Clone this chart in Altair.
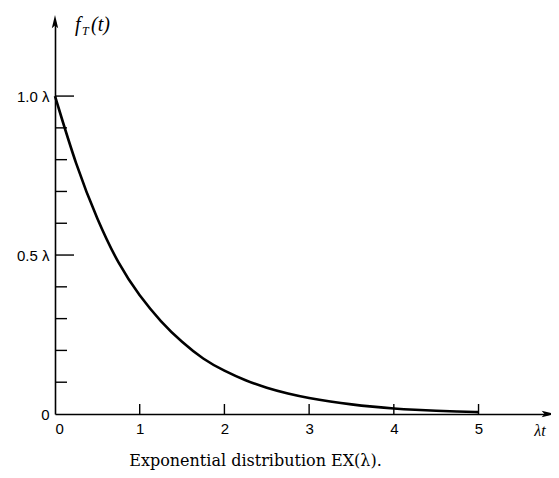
import altair as alt
import pandas as pd

# curve values (lambda*t, f_T(t)/lambda)
xs = [0, 0.25, 0.5, 0.75, 1.0, 1.25, 1.5, 1.75, 2.0, 2.25, 2.5, 2.75, 3.0,
      3.25, 3.5, 3.75, 4.0, 4.25, 4.5, 4.75, 5.0]
ys = [1.00, 0.78, 0.61, 0.47, 0.37, 0.29, 0.225, 0.172, 0.135, 0.105, 0.082,
      0.064, 0.05, 0.039, 0.030, 0.023, 0.017, 0.013, 0.010, 0.008, 0.006]

x_ticks = [1, 2, 3, 4, 5]
x_labels = [0, 1, 2, 3, 4, 5]
y_major = [0.5, 1.0]
y_minor = [0.1, 0.2, 0.3, 0.4, 0.6, 0.7, 0.8, 0.9]
y_labels = [0, 0.5, 1.0]

XMAX = 5.82
YMAX = 1.233

curve = pd.DataFrame({"x": xs, "y": ys})
xsc = alt.Scale(domain=[0, XMAX], nice=False, zero=False)
ysc = alt.Scale(domain=[0, YMAX], nice=False, zero=False)

FONT = "Liberation Sans"

base_axes = alt.Chart(pd.DataFrame({"x": [0], "y": [0]})).mark_point(opacity=0).encode(
    x=alt.X("x:Q", scale=xsc, title=None,
            axis=alt.Axis(values=x_labels, ticks=False, grid=False, domainColor="black",
                          domainWidth=1.6, labelFont=FONT, labelFontSize=15,
                          labelColor="black", labelPadding=7, format="d")),
    y=alt.Y("y:Q", scale=ysc, title=None,
            axis=alt.Axis(values=y_labels, ticks=False, grid=False, domainColor="black",
                          domainWidth=1.6, labelFont=FONT, labelFontSize=15,
                          labelColor="black", labelPadding=6,
                          labelExpr="datum.value == 0 ? '0' : format(datum.value, '.1f') + ' λ'")),
)

line = alt.Chart(curve).mark_line(color="black", strokeWidth=2.6, interpolate="basis").encode(
    x=alt.X("x:Q", scale=xsc), y=alt.Y("y:Q", scale=ysc))

xt = alt.Chart(pd.DataFrame({"x": x_ticks})).mark_rule(color="black", strokeWidth=1.4).encode(
    x=alt.X("x:Q", scale=xsc), y=alt.value(392), y2=alt.value(382))

ymaj = alt.Chart(pd.DataFrame({"y": y_major})).mark_rule(color="black", strokeWidth=1.4).encode(
    y=alt.Y("y:Q", scale=ysc), x=alt.value(0), x2=alt.value(19))

ymin = alt.Chart(pd.DataFrame({"y": y_minor})).mark_rule(color="black", strokeWidth=1.4).encode(
    y=alt.Y("y:Q", scale=ysc), x=alt.value(0), x2=alt.value(12))

up = alt.Chart(pd.DataFrame({"x": [0], "y": [YMAX]})).mark_point(
    shape="M0,-1 L-0.45,0.9 L0,0.5 L0.45,0.9 Z", size=200, filled=True, color="black",
    opacity=1).encode(x=alt.X("x:Q", scale=xsc), y=alt.Y("y:Q", scale=ysc))

right = alt.Chart(pd.DataFrame({"x": [XMAX], "y": [0]})).mark_point(
    shape="M1,0 L-0.9,-0.45 L-0.5,0 L-0.9,0.45 Z", size=200, filled=True, color="black",
    opacity=1).encode(x=alt.X("x:Q", scale=xsc), y=alt.Y("y:Q", scale=ysc))

xlab = alt.Chart(pd.DataFrame({"x": [XMAX], "y": [0], "t": ["λt"]})).mark_text(
    font="Liberation Serif", fontStyle="italic", fontSize=16, baseline="top",
    align="center", dy=9, dx=-8, color="black").encode(
    x=alt.X("x:Q", scale=xsc), y=alt.Y("y:Q", scale=ysc), text="t:N")

ylab_df = pd.DataFrame({"x": [0], "y": [YMAX]})
f1 = alt.Chart(ylab_df).mark_text(text="f", font="Liberation Serif", fontStyle="italic",
                                  fontSize=20, align="left", baseline="middle", dx=20, dy=3,
                                  color="black").encode(
    x=alt.X("x:Q", scale=xsc), y=alt.Y("y:Q", scale=ysc))
f2 = alt.Chart(ylab_df).mark_text(text="T", font="Liberation Serif", fontStyle="italic",
                                  fontSize=12, align="left", baseline="middle", dx=27, dy=9,
                                  color="black").encode(
    x=alt.X("x:Q", scale=xsc), y=alt.Y("y:Q", scale=ysc))
f3 = alt.Chart(ylab_df).mark_text(text="(t)", font="Liberation Serif", fontStyle="italic",
                                  fontSize=20, align="left", baseline="middle", dx=36, dy=3,
                                  color="black").encode(
    x=alt.X("x:Q", scale=xsc), y=alt.Y("y:Q", scale=ysc))

chart = alt.layer(base_axes, line, xt, ymaj, ymin, up, right, xlab, f1, f2, f3).properties(
    width=493, height=392,
    background="white",
    autosize=alt.AutoSizeParams(type="none"),
    padding={"left": 47, "top": 14, "right": 3, "bottom": 56},
    title=alt.TitleParams("Exponential distribution EX(λ).", orient="bottom",
                          anchor="middle", frame="group", dx=-46, offset=14,
                          font="DejaVu Serif", fontSize=16, fontWeight="normal",
                          color="black"),
).configure_view(strokeWidth=0, stroke=None)

chart.save("out.html", embed_options={"renderer": "svg", "actions": False})
